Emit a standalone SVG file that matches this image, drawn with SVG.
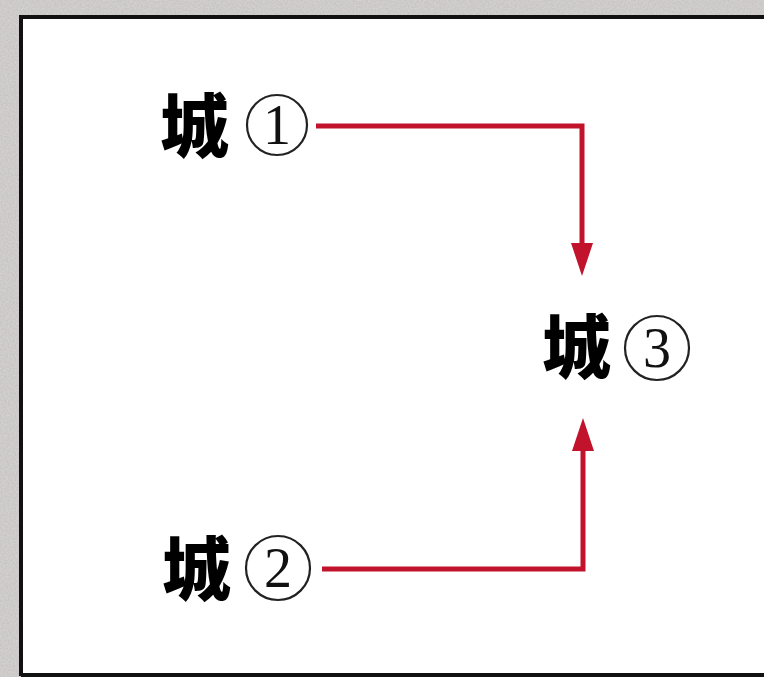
<svg xmlns="http://www.w3.org/2000/svg" width="764" height="677" viewBox="0 0 764 677">
  <defs>
    <filter id="grain" x="0" y="0" width="100%" height="100%">
      <feTurbulence type="fractalNoise" baseFrequency="0.6" numOctaves="3" seed="3" result="n"/>
      <feColorMatrix in="n" type="matrix" values="0 0 0 0 0.72  0 0 0 0 0.70  0 0 0 0 0.70  0 0 0 -1.4 1.2"/>
    </filter>
    <marker id="head" viewBox="0 0 33 22" refX="1" refY="11" markerWidth="33" markerHeight="22" orient="auto" markerUnits="userSpaceOnUse">
      <path d="M0,0 L33,11 L0,22 Z" fill="#c2132c"/>
    </marker>
    <style>
      .city { font-family: "Noto Sans CJK SC", "Noto Sans CJK JP", sans-serif; font-weight: 900; font-size: 69px; fill: #000; }
      .num { font-family: "Liberation Serif", serif; font-size: 56px; fill: #111; }
      .ring { fill: none; stroke: #222; stroke-width: 2.2; }
      .link { fill: none; stroke: #c2132c; stroke-width: 5; marker-end: url(#head); }
    </style>
  </defs>

  <rect x="0" y="0" width="764" height="677" fill="#c6c2c2"/>
  <rect x="0" y="0" width="764" height="677" filter="url(#grain)" opacity="0.7"/>
  <rect x="21" y="17" width="760" height="658" fill="#ffffff"/>
  <path d="M21,676 V17 H764 M21,675 H764" fill="none" stroke="#111" stroke-width="4"/>

  <g id="connectors">
    <path class="link" d="M316,126 H582 V244"/>
    <path class="link" d="M322,569 H583 V450"/>
  </g>

  <g id="city1">
    <text class="city" x="160" y="152">城</text>
    <circle class="ring" cx="277" cy="125" r="30"/>
    <text class="num" x="277" y="144" text-anchor="middle">1</text>
  </g>

  <g id="city3">
    <text class="city" x="542" y="373">城</text>
    <circle class="ring" cx="657" cy="348" r="32"/>
    <text class="num" x="657" y="367" text-anchor="middle">3</text>
  </g>

  <g id="city2">
    <text class="city" x="162" y="595">城</text>
    <circle class="ring" cx="278" cy="568" r="32"/>
    <text class="num" x="278" y="587" text-anchor="middle">2</text>
  </g>
</svg>
